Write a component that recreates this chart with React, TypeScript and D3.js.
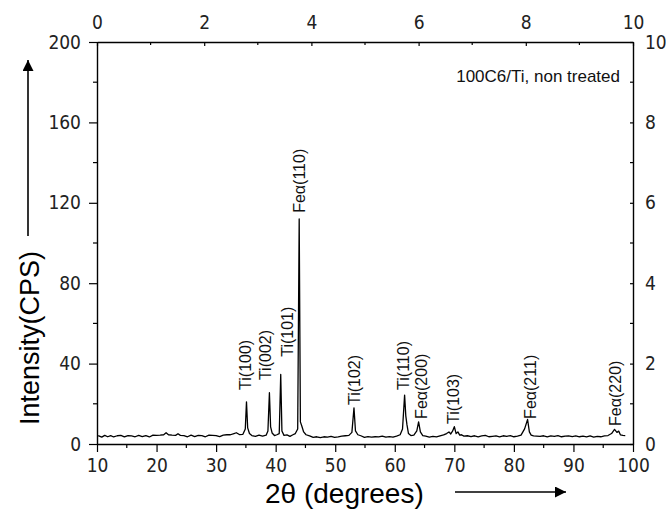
import React, { useEffect, useRef } from 'react';
import * as d3 from 'd3';

const W = 666;
const H = 516;

// XRD pattern: 2θ (degrees) and intensity (CPS)
const twoTheta = [
  10.2, 10.8, 11.3, 11.8, 12.3, 12.8, 13.4, 14.0, 14.6, 15.2, 15.8, 16.4, 17.0, 17.6, 18.2, 18.8, 19.4, 20.0,
  20.6, 21.2, 21.6, 22.0, 22.6, 23.2, 23.6, 24.0, 24.6, 25.2, 25.8, 26.4, 27.0, 27.6, 28.2, 28.8, 29.4, 30.0,
  30.6, 31.2, 31.8, 32.4, 33.0, 33.4, 33.9, 34.5, 34.9, 35.1, 35.3, 35.6, 36.0, 36.6, 37.2, 37.8, 38.4, 38.7,
  38.95, 39.15, 39.4, 39.8, 40.2, 40.6, 40.85, 41.05, 41.4, 41.9, 42.4, 42.9, 43.3, 43.7, 43.95, 44.15, 44.4,
  44.7, 45.1, 45.7, 46.3, 46.9, 47.5, 48.1, 48.7, 49.3, 49.9, 50.5, 51.1, 51.7, 52.3, 52.8, 53.15, 53.4, 53.8,
  54.3, 54.9, 55.5, 56.1, 56.7, 57.3, 57.9, 58.5, 59.1, 59.7, 60.3, 60.9, 61.3, 61.65, 61.85, 62.05, 62.3,
  62.7, 63.2, 63.7, 64.0, 64.3, 64.7, 65.2, 65.8, 66.4, 67.0, 67.6, 68.2, 68.7, 69.1, 69.4, 69.7, 70.0, 70.3,
  70.6, 70.9, 71.2, 71.6, 72.2, 72.8, 73.4, 74.0, 74.6, 75.2, 75.8, 76.4, 77.0, 77.6, 78.2, 78.8, 79.4, 80.0,
  80.6, 81.2, 81.8, 82.3, 82.6, 82.9, 83.3, 83.8, 84.4, 85.0, 85.6, 86.2, 86.8, 87.4, 88.0, 88.6, 89.2, 89.8,
  90.4, 91.0, 91.6, 92.2, 92.8, 93.4, 94.0, 94.6, 95.2, 95.8, 96.4, 96.9, 97.3, 97.6, 97.9, 98.3, 98.7, 99.2,
];
const intensity = [
  4.2, 3.4, 4.3, 3.6, 4.2, 3.5, 4.1, 4.3, 3.5, 4.2, 4.0, 3.6, 4.3, 3.7, 4.2, 3.5, 4.4, 4.3,
  4.4, 4.6, 5.6, 4.6, 4.4, 4.3, 5.1, 4.3, 4.2, 3.6, 4.4, 3.7, 4.3, 4.2, 3.6, 4.4, 4.3, 4.2,
  3.7, 4.4, 4.6, 4.6, 5.2, 5.6, 4.7, 4.8, 7.5, 21.0, 8.0, 5.2, 4.2, 3.8, 4.4, 3.9, 4.4, 6.5,
  25.5, 8.5, 5.5, 4.2, 4.6, 5.2, 34.6, 6.5, 4.3, 4.5, 3.8, 4.6, 5.2, 7.5, 112.0, 11.0, 8.8,
  6.0, 4.6, 4.0, 3.3, 3.6, 3.2, 3.6, 3.4, 3.8, 3.3, 3.5, 3.9, 4.1, 4.3, 5.8, 18.0, 6.5, 4.6,
  4.1, 3.3, 3.7, 3.4, 3.6, 3.5, 3.9, 3.4, 3.7, 3.4, 3.9, 4.6, 7.5, 24.3, 14.0, 9.5, 5.2,
  4.2, 4.4, 6.5, 11.0, 6.0, 4.2, 3.9, 3.4, 3.8, 3.5, 4.0, 4.5, 5.2, 6.0, 5.0, 6.4, 8.6,
  5.2, 6.0, 4.4, 4.6, 3.9, 4.1, 3.7, 4.1, 3.6, 4.0, 4.3, 3.6, 3.8, 4.0, 3.6, 4.1, 3.8, 4.2,
  3.6, 3.9, 4.4, 7.5, 12.2, 6.0, 4.4, 4.0, 3.9, 3.8, 4.1, 3.6, 4.0, 3.8, 4.2, 3.6, 3.9, 4.0,
  3.7, 4.0, 3.6, 3.9, 3.5, 4.0, 3.4, 3.8, 3.6, 4.0, 4.2, 5.2, 7.3, 5.8, 6.4, 4.5, 4.3, 4.2,
];

// peak labels
const peakNames = ['Ti(100)', 'Ti(002)', 'Ti(101)', 'Feα(110)', 'Ti(102)', 'Ti(110)', 'Feα(200)', 'Ti(103)', 'Feα(211)', 'Feα(220)'];
const peakLabelTheta = [34.85, 38.2, 41.9, 43.9, 53.15, 61.4, 64.5, 69.9, 82.8, 97.1];
const peakLabelBase = [26.9, 31.8, 43.4, 115.0, 19.4, 26.9, 12.5, 10.0, 12.5, 9.0];

// axes
const xTicks = [10, 20, 30, 40, 50, 60, 70, 80, 90, 100];
const xMinor = [15, 25, 35, 45, 55, 65, 75, 85, 95];
const yTicks = [0, 40, 80, 120, 160, 200];
const yMinor = [20, 60, 100, 140, 180];
const topTicks = [0, 2, 4, 6, 8, 10];
const topMinor = [1, 3, 5, 7, 9];
const rightTicks = [0, 2, 4, 6, 8, 10];
const rightMinor = [1, 3, 5, 7, 9];

const sampleLabel = '100C6/Ti, non treated';
const xTitle = '2θ (degrees)';
const yTitle = 'Intensity(CPS)';

const PL = 97, PR = 633, PT = 42, PB = 444;
const FONT = '"Liberation Sans", Arial, sans-serif';
const TICKFONT = '"Liberation Sans Narrow", "DejaVu Sans Condensed", "Liberation Sans", Arial, sans-serif';

export default function App() {
  const ref = useRef<SVGSVGElement>(null);
  useEffect(() => {
    document.body.style.margin = '0';
    const svg = d3.select(ref.current);
    svg.selectAll('*').remove();

    const x = d3.scaleLinear().domain([10, 100]).range([PL, PR]);
    const y = d3.scaleLinear().domain([0, 200]).range([PB, PT]);
    const xTop = d3.scaleLinear().domain([0, 10]).range([PL, PR]);
    const yRight = d3.scaleLinear().domain([0, 10]).range([PB, PT]);

    const styleAxis = (g: any) => {
      g.select('.domain').attr('stroke', '#000').attr('stroke-width', 1.4);
      g.selectAll('.tick line').attr('stroke', '#000').attr('stroke-width', 1.2);
      g.selectAll('text').attr('font-family', TICKFONT).attr('font-size', 19).attr('fill', '#222');
    };

    // left
    const gl = svg.append('g').attr('transform', `translate(${PL},0)`);
    gl.call(d3.axisLeft(y).tickValues(yTicks).tickSize(8).tickSizeOuter(0).tickPadding(8).tickFormat(d3.format('d')));
    styleAxis(gl);
    gl.selectAll('.minor').data(yMinor).enter().append('line')
      .attr('x1', -4).attr('x2', 0).attr('y1', (d) => y(d)).attr('y2', (d) => y(d))
      .attr('stroke', '#000').attr('stroke-width', 1.2);

    // bottom
    const gb = svg.append('g').attr('transform', `translate(0,${PB})`);
    gb.call(d3.axisBottom(x).tickValues(xTicks).tickSize(8).tickSizeOuter(0).tickPadding(7).tickFormat(d3.format('d')));
    styleAxis(gb);
    gb.selectAll('.minor').data(xMinor).enter().append('line')
      .attr('y1', 0).attr('y2', 4).attr('x1', (d) => x(d)).attr('x2', (d) => x(d))
      .attr('stroke', '#000').attr('stroke-width', 1.2);

    // top
    const gt = svg.append('g').attr('transform', `translate(0,${PT})`);
    gt.call(d3.axisTop(xTop).tickValues(topTicks).tickSize(-4).tickSizeOuter(0).tickPadding(13).tickFormat(d3.format('d')));
    styleAxis(gt);
    gt.selectAll('.minor').data(topMinor).enter().append('line')
      .attr('y1', 0).attr('y2', 3).attr('x1', (d) => xTop(d)).attr('x2', (d) => xTop(d))
      .attr('stroke', '#000').attr('stroke-width', 1.2);

    // right
    const gr = svg.append('g').attr('transform', `translate(${PR},0)`);
    gr.call(d3.axisRight(yRight).tickValues(rightTicks).tickSize(-3).tickSizeOuter(0).tickPadding(12).tickFormat(d3.format('d')));
    styleAxis(gr);
    gr.selectAll('.minor').data(rightMinor).enter().append('line')
      .attr('x1', -3).attr('x2', 0).attr('y1', (d) => yRight(d)).attr('y2', (d) => yRight(d))
      .attr('stroke', '#000').attr('stroke-width', 1.2);

    // data line
    const pts = twoTheta.map((t, i) => [t, intensity[i]] as [number, number]);
    const line = d3.line<[number, number]>().x((d) => x(d[0])).y((d) => y(d[1]));
    svg.append('path').attr('d', line(pts) as string).attr('fill', 'none')
      .attr('stroke', '#000').attr('stroke-width', 1.3).attr('stroke-linejoin', 'round');

    // peak labels
    svg.append('g').selectAll('text').data(peakNames).enter().append('text')
      .attr('transform', (d, i) => `translate(${x(peakLabelTheta[i])},${y(peakLabelBase[i])}) rotate(-90)`)
      .attr('dy', '0.35em')
      .attr('font-family', FONT).attr('font-size', 16).attr('fill', '#111')
      .text((d) => d);

    // sample label
    svg.append('text').attr('x', 620).attr('y', 82).attr('text-anchor', 'end')
      .attr('font-family', FONT).attr('font-size', 17).attr('fill', '#111').text(sampleLabel);

    // arrow marker
    const defs = svg.append('defs');
    defs.append('marker').attr('id', 'arr').attr('viewBox', '0 0 10 10').attr('refX', 10).attr('refY', 5)
      .attr('markerWidth', 11).attr('markerHeight', 11).attr('markerUnits', 'userSpaceOnUse').attr('orient', 'auto')
      .append('path').attr('d', 'M0,0 L10,5 L0,10 Z').attr('fill', '#000');

    // y title + arrow
    svg.append('text').attr('transform', `translate(30,425) rotate(-90)`).attr('dy', '0.35em')
      .attr('font-family', FONT).attr('font-size', 27).attr('fill', '#000').text(yTitle);
    svg.append('line').attr('x1', 28).attr('x2', 28).attr('y1', 236).attr('y2', 60)
      .attr('stroke', '#000').attr('stroke-width', 1.6).attr('marker-end', 'url(#arr)');

    // x title + arrow
    svg.append('text').attr('x', 265).attr('y', 503)
      .attr('font-family', FONT).attr('font-size', 28).attr('fill', '#000').text(xTitle);
    svg.append('line').attr('x1', 455).attr('x2', 566).attr('y1', 492).attr('y2', 492)
      .attr('stroke', '#000').attr('stroke-width', 1.6).attr('marker-end', 'url(#arr)');
  }, []);

  return (
    <svg ref={ref} width={W} height={H} style={{ display: 'block', background: '#fff' }} />
  );
}
